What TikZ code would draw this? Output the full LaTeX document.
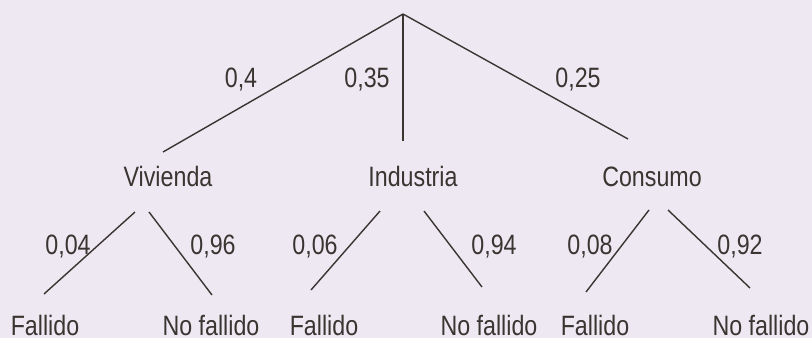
\documentclass[tikz,border=0pt]{standalone}
\usepackage{fontspec}
\setmainfont[FakeStretch=0.83]{Liberation Sans}
\usepackage{xcolor}
\definecolor{bg}{HTML}{EDE8F2}
\definecolor{ink}{HTML}{3A3531}

\begin{document}
\begin{tikzpicture}[
	x=1pt, y=-1pt,
	t/.style = {anchor=base, inner sep=0pt, text=ink, font=\fontsize{28}{30}\selectfont},
	p/.style = {t},
	r/.style = {draw=ink, line width=1.4pt}
	]
	
	\path[use as bounding box, fill=bg] (0,0) rectangle (812,338);
	
	% === === Nodes === ===
	\coordinate	(root)	at	(403, 14);
	
	\node[t]	(viv)	at	(168, 186)	{Vivienda};
	\node[t]	(ind)	at	(413, 186)	{Industria};
	\node[t]	(con)	at	(652, 186)	{Consumo};
	
	\node[t]	(vf)	at	(45, 335)	{Fallido};
	\node[t]	(vn)	at	(211, 335)	{No fallido};
	\node[t]	(if)	at	(324, 335)	{Fallido};
	\node[t]	(in)	at	(489, 335)	{No fallido};
	\node[t]	(cf)	at	(595, 335)	{Fallido};
	\node[t]	(cn)	at	(761, 335)	{No fallido};
	
	% === === Ends === ===
	\coordinate	(viv-in)	at	(163, 152);
	\coordinate	(ind-in)	at	(403, 141);
	\coordinate	(con-in)	at	(628, 139);
	
	\coordinate	(viv-l)	at	(135, 212);
	\coordinate	(viv-r)	at	(149, 212);
	\coordinate	(ind-l)	at	(380, 211);
	\coordinate	(ind-r)	at	(424, 211);
	\coordinate	(con-l)	at	(649, 210);
	\coordinate	(con-r)	at	(668, 210);
	
	\coordinate	(vf-in)	at	(44, 294);
	\coordinate	(vn-in)	at	(212, 295);
	\coordinate	(if-in)	at	(311, 290);
	\coordinate	(in-in)	at	(482, 287);
	\coordinate	(cf-in)	at	(586, 292);
	\coordinate	(cn-in)	at	(750, 288);
	
	% === === Lines === ===
	\draw[r]	(root)	to	(viv-in);
	\draw[r]	(root)	to	(ind-in);
	\draw[r]	(root)	to	(con-in);
	
	\draw[r]	(viv-l)	to	(vf-in);
	\draw[r]	(viv-r)	to	(vn-in);
	\draw[r]	(ind-l)	to	(if-in);
	\draw[r]	(ind-r)	to	(in-in);
	\draw[r]	(con-l)	to	(cf-in);
	\draw[r]	(con-r)	to	(cn-in);
	
	% === === Labels === ===
	\node[p]	(p1)	at	(241, 87)	{0,4};
	\node[p]	(p2)	at	(367, 87)	{0,35};
	\node[p]	(p3)	at	(578, 87)	{0,25};
	
	\node[p]	(p11)	at	(68, 254)	{0,04};
	\node[p]	(p12)	at	(213, 254)	{0,96};
	\node[p]	(p21)	at	(315, 254)	{0,06};
	\node[p]	(p22)	at	(494, 254)	{0,94};
	\node[p]	(p31)	at	(590, 254)	{0,08};
	\node[p]	(p32)	at	(740, 254)	{0,92};
	
\end{tikzpicture}
\end{document}
